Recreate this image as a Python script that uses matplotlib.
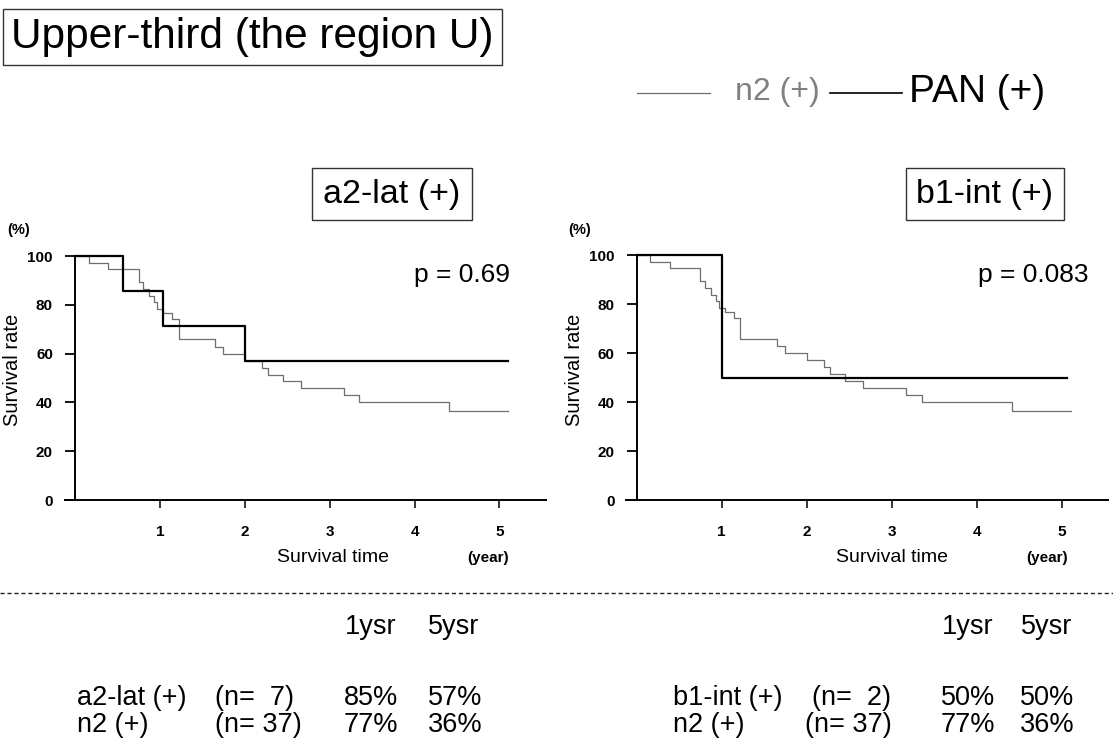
import matplotlib
matplotlib.use("Agg")
import matplotlib.pyplot as plt
from matplotlib.lines import Line2D

plt.rcParams['font.family'] = ['Liberation Sans', 'DejaVu Sans']

W, H = 1113, 745

# survival curves (years, %)
n2_time = [0, 0.16, 0.39, 0.75, 0.80, 0.87, 0.93, 0.97, 1.04, 1.14, 1.22, 1.65, 1.74, 2.0, 2.2, 2.27, 2.45, 2.66, 3.17, 3.35, 4.41, 5.1]
n2_surv = [100, 97.3, 94.6, 89.2, 86.5, 83.8, 81.1, 78.4, 76.8, 74.3, 65.8, 62.8, 59.8, 57.0, 54.3, 51.4, 48.6, 45.8, 42.9, 40.0, 36.5, 36.5]

a2_time = [0, 0.56, 1.04, 2.0, 5.1]
a2_surv = [100, 85.7, 71.4, 57.1, 57.1]

b1_time = [0, 1.0, 5.06]
b1_surv = [100, 50, 50]

x_ticks = [1, 2, 3, 4, 5]
y_ticks = [0, 20, 40, 60, 80, 100]

panels = ["a2-lat (+)", "b1-int (+)"]
p_values = ["p = 0.69", "p = 0.083"]

col_heads = ["1ysr", "5ysr"]
rows_left = [["a2-lat (+)", "(n=  7)", "85%", "57%"],
             ["n2 (+)", "(n= 37)", "77%", "36%"]]
rows_right = [["b1-int (+)", "(n=  2)", "50%", "50%"],
              ["n2 (+)", "(n= 37)", "77%", "36%"]]

fig = plt.figure(figsize=(W / 100, H / 100), dpi=100)


def px(x, y):
    return x / W, 1 - y / H


def make_axes(x0, x1, ytop, ybot, xlim):
    ax = fig.add_axes([x0 / W, 1 - ybot / H, (x1 - x0) / W, (ybot - ytop) / H])
    ax.set_xlim(*xlim)
    ax.set_ylim(0, 100)
    ax.spines['top'].set_visible(False)
    ax.spines['right'].set_visible(False)
    ax.spines['left'].set_position(('data', 0))
    ax.spines['left'].set_linewidth(1.4)
    ax.spines['bottom'].set_linewidth(1.4)
    ax.set_xticks(x_ticks)
    ax.set_yticks(y_ticks)
    ax.tick_params(axis='x', length=6, width=1.1, labelsize=11, pad=12)
    ax.tick_params(axis='y', length=7, width=1.3, labelsize=11, pad=9)
    for t in ax.get_xticklabels() + ax.get_yticklabels():
        t.set_fontweight('bold')
    return ax


axL = make_axes(65, 546, 256, 500, (-0.12, 5.55))
axR = make_axes(626, 1108, 255, 500, (-0.125, 5.54))

for ax, t, s in [(axL, a2_time, a2_surv), (axR, b1_time, b1_surv)]:
    ax.step(n2_time, n2_surv, where='post', color='#6e6e6e', lw=0.9, clip_on=False)
    ax.step(t, s, where='post', color='black', lw=1.6, clip_on=False)

# axis texts
for xo in [0, 561]:
    fig.text(*px(7 + xo, 230), "(%)", fontsize=10.5, fontweight='bold', ha='left', va='center')
    fig.text(*px(13 + xo, 370), "Survival rate", fontsize=14.5, rotation=90, ha='center', va='center')

fig.text(*px(333, 558), "Survival time", fontsize=14, ha='center', va='center')
fig.text(*px(488, 558), "(year)", fontsize=11, fontweight='bold', ha='center', va='center')
fig.text(*px(892, 558), "Survival time", fontsize=14, ha='center', va='center')
fig.text(*px(1047, 558), "(year)", fontsize=11, fontweight='bold', ha='center', va='center')

fig.text(*px(510, 275), p_values[0], fontsize=19, ha='right', va='center')
fig.text(*px(1088, 275), p_values[1], fontsize=19, ha='right', va='center')

box = dict(boxstyle='square,pad=0.32', fc='white', ec='#333333', lw=1.0)
fig.text(*px(392, 194), panels[0], fontsize=24.5, ha='center', va='center', bbox=box)
fig.text(*px(985, 194), panels[1], fontsize=24.5, ha='center', va='center', bbox=box)

fig.text(*px(11, 37), "Upper-third (the region U)", fontsize=30.5, ha='left', va='center',
         bbox=dict(boxstyle='square,pad=0.2', fc='white', ec='#333333', lw=1.0))

# legend
fig.add_artist(Line2D([637 / W, 710 / W], [1 - 93 / H] * 2, color='#6e6e6e', lw=0.9))
fig.text(*px(777, 92), "n2 (+)", fontsize=23, color='#808080', ha='center', va='center',
         fontweight='light')
fig.add_artist(Line2D([830 / W, 902 / W], [1 - 93 / H] * 2, color='black', lw=1.2))
fig.text(*px(909, 92), "PAN (+)", fontsize=28, ha='left', va='center')

# separator
fig.add_artist(Line2D([0, 1], [1 - 593 / H] * 2, color='#222222', lw=1.0, ls=(0, (3, 2))))

# tables
fs = 19.5
fig.text(*px(371, 627), col_heads[0], fontsize=fs, ha='center', va='center')
fig.text(*px(454, 627), col_heads[1], fontsize=fs, ha='center', va='center')
fig.text(*px(968, 627), col_heads[0], fontsize=fs, ha='center', va='center')
fig.text(*px(1047, 627), col_heads[1], fontsize=fs, ha='center', va='center')

n_x_left = [215, 215]
n_x_right = [812, 805]
for i, y in enumerate([698, 725]):
    r = rows_left[i]
    fig.text(*px(77, y), r[0], fontsize=fs, ha='left', va='center')
    fig.text(*px(n_x_left[i], y), r[1], fontsize=fs, ha='left', va='center')
    fig.text(*px(371, y), r[2], fontsize=fs, ha='center', va='center')
    fig.text(*px(455, y), r[3], fontsize=fs, ha='center', va='center')
    r = rows_right[i]
    fig.text(*px(673, y), r[0], fontsize=fs, ha='left', va='center')
    fig.text(*px(n_x_right[i], y), r[1], fontsize=fs, ha='left', va='center')
    fig.text(*px(968, y), r[2], fontsize=fs, ha='center', va='center')
    fig.text(*px(1047, y), r[3], fontsize=fs, ha='center', va='center')

fig.savefig("out.png", dpi=100, facecolor='white')
